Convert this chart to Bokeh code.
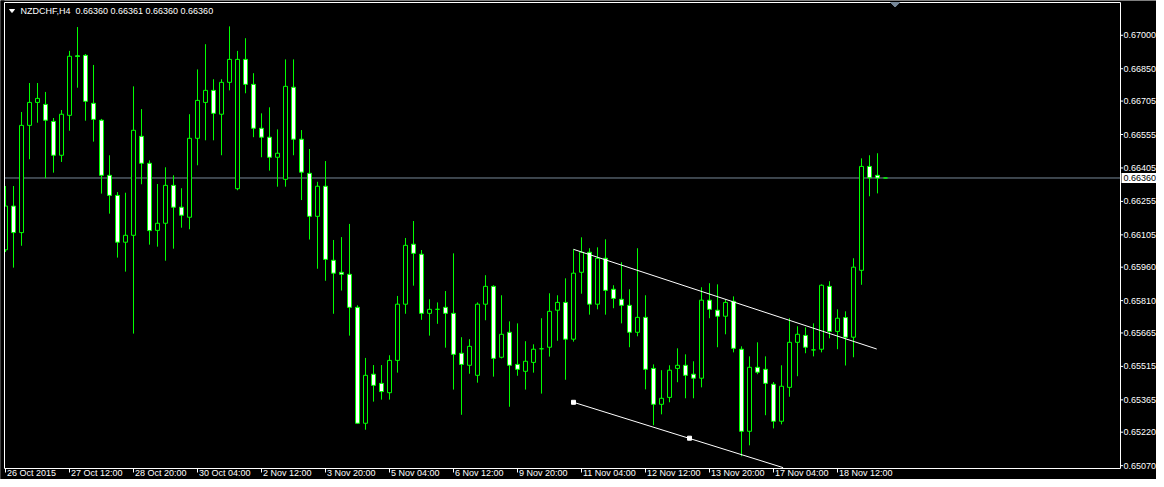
from bokeh.plotting import figure
from bokeh.models import ColumnDataSource, Range1d
from bokeh.core.properties import value
from bokeh.embed import file_html
from bokeh.resources import INLINE

# ---------------- data ----------------
symbol = "NZDCHF,H4"
last_quote = ["0.66360", "0.66361", "0.66360", "0.66360"]
current_price = 0.66360

opens = [0.66038, 0.66234, 0.66115, 0.66596, 0.66699, 0.66690, 0.66614, 0.66462, 0.66641, 0.66908,
         0.66910, 0.66695, 0.66619, 0.66372, 0.66282, 0.66072, 0.66103, 0.66547, 0.66426, 0.66125,
         0.66157, 0.66327, 0.66229, 0.66184, 0.66538, 0.66699, 0.66753, 0.66646, 0.66789, 0.66312,
         0.66892, 0.66780, 0.66583, 0.66543, 0.66453, 0.66354, 0.66767, 0.66534, 0.66381, 0.66188,
         0.66323, 0.65991, 0.65937, 0.65928, 0.65780, 0.65260, 0.65480, 0.65439, 0.65397, 0.65542,
         0.65794, 0.66063, 0.66018, 0.65753, 0.65771, 0.65780, 0.65753, 0.65574, 0.65520, 0.65475,
         0.65794, 0.65874, 0.65556, 0.65668, 0.65524, 0.65493, 0.65533, 0.65594, 0.65601, 0.65767,
         0.65802, 0.65637, 0.65937, 0.66027, 0.65794, 0.66000, 0.65861, 0.65816, 0.65789, 0.65668,
         0.65735, 0.65506, 0.65345, 0.65376, 0.65506, 0.65520, 0.65480, 0.65462, 0.65812, 0.65767,
         0.65740, 0.65807, 0.65592, 0.65224, 0.65511, 0.65502, 0.65435, 0.65269, 0.65421, 0.65623,
         0.65654, 0.65589, 0.65592, 0.65874, 0.65672, 0.65734, 0.65646, 0.65946, 0.66412, 0.66372,
         0.66360]
highs = [0.66324, 0.66324, 0.66656, 0.66786, 0.66786, 0.66746, 0.66629, 0.66665, 0.66930, 0.67037,
         0.66916, 0.66867, 0.66625, 0.66462, 0.66297, 0.66294, 0.66771, 0.66669, 0.66439, 0.66333,
         0.66408, 0.66372, 0.66314, 0.66646, 0.66847, 0.66960, 0.66803, 0.66803, 0.67040, 0.66930,
         0.66987, 0.66830, 0.66650, 0.66677, 0.66578, 0.66892, 0.66892, 0.66575, 0.66490, 0.66343,
         0.66436, 0.66082, 0.66095, 0.66154, 0.65789, 0.65553, 0.65521, 0.65521, 0.65565, 0.65831,
         0.66091, 0.66167, 0.66037, 0.65816, 0.65802, 0.65853, 0.66022, 0.65646, 0.65637, 0.65802,
         0.65924, 0.65879, 0.65834, 0.65717, 0.65708, 0.65628, 0.65614, 0.65731, 0.65843, 0.65834,
         0.65910, 0.66040, 0.66094, 0.66045, 0.66049, 0.66085, 0.65879, 0.65982, 0.65861, 0.66045,
         0.65834, 0.65524, 0.65498, 0.65520, 0.65596, 0.65569, 0.65538, 0.65870, 0.65888, 0.65883,
         0.65816, 0.65829, 0.65605, 0.65560, 0.65623, 0.65560, 0.65445, 0.65520, 0.65731, 0.65695,
         0.65690, 0.65708, 0.65883, 0.65897, 0.65771, 0.65762, 0.66000, 0.66448, 0.66462, 0.66471,
         0.66361]
lows = [0.66028, 0.65958, 0.66056, 0.66444, 0.66608, 0.66359, 0.66384, 0.66432, 0.66572, 0.66765,
        0.66617, 0.66523, 0.66290, 0.66200, 0.66003, 0.65940, 0.65662, 0.66332, 0.66061, 0.66052,
        0.65989, 0.66043, 0.66137, 0.66130, 0.66417, 0.66529, 0.66529, 0.66462, 0.66753, 0.66305,
        0.66740, 0.66543, 0.66453, 0.66393, 0.66321, 0.66321, 0.66462, 0.66261, 0.66084, 0.65953,
        0.65899, 0.65751, 0.65855, 0.65653, 0.65258, 0.65231, 0.65357, 0.65366, 0.65366, 0.65487,
        0.65751, 0.65877, 0.65724, 0.65653, 0.65706, 0.65599, 0.65411, 0.65298, 0.65482, 0.65442,
        0.65722, 0.65469, 0.65551, 0.65334, 0.65473, 0.65411, 0.65487, 0.65393, 0.65559, 0.65630,
        0.65455, 0.65626, 0.65841, 0.65747, 0.65771, 0.65747, 0.65776, 0.65708, 0.65601, 0.65650,
        0.65412, 0.65251, 0.65300, 0.65354, 0.65444, 0.65372, 0.65372, 0.65421, 0.65731, 0.65601,
        0.65659, 0.65578, 0.65112, 0.65161, 0.65480, 0.65296, 0.65237, 0.65255, 0.65379, 0.65471,
        0.65574, 0.65560, 0.65578, 0.65641, 0.65592, 0.65519, 0.65556, 0.65881, 0.66278, 0.66291,
        0.66360]
closes = [0.66234, 0.66115, 0.66596, 0.66699, 0.66717, 0.66619, 0.66462, 0.66646, 0.66906, 0.66905,
          0.66704, 0.66623, 0.66372, 0.66282, 0.66072, 0.66103, 0.66574, 0.66426, 0.66124, 0.66157,
          0.66327, 0.66229, 0.66193, 0.66538, 0.66708, 0.66753, 0.66650, 0.66789, 0.66892, 0.66892,
          0.66780, 0.66583, 0.66543, 0.66453, 0.66471, 0.66771, 0.66534, 0.66386, 0.66188, 0.66323,
          0.65995, 0.65933, 0.65928, 0.65780, 0.65260, 0.65475, 0.65430, 0.65402, 0.65542, 0.65794,
          0.66058, 0.66022, 0.65753, 0.65771, 0.65771, 0.65753, 0.65569, 0.65524, 0.65605, 0.65794,
          0.65874, 0.65551, 0.65659, 0.65520, 0.65502, 0.65538, 0.65592, 0.65594, 0.65762, 0.65802,
          0.65637, 0.65933, 0.66027, 0.65794, 0.66000, 0.65856, 0.65820, 0.65789, 0.65668, 0.65735,
          0.65502, 0.65345, 0.65372, 0.65498, 0.65520, 0.65475, 0.65462, 0.65812, 0.65771, 0.65740,
          0.65802, 0.65596, 0.65224, 0.65511, 0.65489, 0.65439, 0.65269, 0.65426, 0.65623, 0.65659,
          0.65601, 0.65589, 0.65879, 0.65672, 0.65731, 0.65646, 0.65960, 0.66412, 0.66361, 0.66360,
          0.66360]

time_labels = ["26 Oct 2015", "27 Oct 12:00", "28 Oct 20:00", "30 Oct 04:00", "2 Nov 12:00",
               "3 Nov 20:00", "5 Nov 04:00", "6 Nov 12:00", "9 Nov 20:00", "11 Nov 04:00",
               "12 Nov 12:00", "13 Nov 20:00", "17 Nov 04:00", "18 Nov 12:00"]
time_label_bars = [0, 8, 16, 24, 32, 40, 48, 56, 64, 72, 80, 88, 96, 104]

price_ticks = [0.67000, 0.66850, 0.66705, 0.66555, 0.66405, 0.66255, 0.66105,
               0.65960, 0.65810, 0.65665, 0.65515, 0.65365, 0.65220, 0.65070]

# trend channel (bar index, price)
upper_line_x = [71.0, 108.9]
upper_line_y = [0.66040, 0.65593]
lower_line_x = [71.0, 97.2]
lower_line_y = [0.65354, 0.65061]
lower_anchor_x = [71.0, 85.5]
lower_anchor_y = [0.65354, 0.65193]
shift_marker_bar = 111.2

# ---------------- layout: one frame covering the whole canvas ----------------
# BokehJS offsets its drawing by half a pixel, so pixel-centre positions are
# mapped to (position - 0.5) on the scales below.
W, H = 1156, 479
BAR_PX = 8                       # pixels per bar
X0 = -5.0 / BAR_PX               # bar 0 centre lands on pixel column 5
X1 = X0 + W / BAR_PX
PRICE_PER_PX = 0.00004485
Y_TOP = 0.671583 - 0.5 * PRICE_PER_PX
Y_BOT = Y_TOP - H * PRICE_PER_PX


def fx(px):
    return X0 + (px - 0.5) / BAR_PX


def fy(py):
    return Y_TOP - (py - 0.5) * PRICE_PER_PX


BOX_L, BOX_R, BOX_T, BOX_B = 4.5, 1120.5, 2.5, 468.5   # chart box (pixel centres)
FONT = value("Liberation Sans")
FS = value("9px")
LIME = "#00FF00"
SLATE = "#778899"

p = figure(width=W, height=H, x_range=Range1d(X0, X1), y_range=Range1d(Y_BOT, Y_TOP),
           output_backend="svg", toolbar_location=None,
           x_axis_location=None, y_axis_location=None,
           min_border_left=0, min_border_right=0, min_border_top=0, min_border_bottom=0,
           background_fill_color="black", border_fill_color="black", outline_line_color=None)
p.xgrid.visible = False
p.ygrid.visible = False

# current price (bid) line
p.segment(x0=[fx(BOX_L)], x1=[fx(BOX_R)], y0=[current_price], y1=[current_price],
          line_color=SLATE, line_width=1)

# candles
idx = list(range(len(opens)))
src = ColumnDataSource(dict(
    x=idx, low=lows, high=highs,
    top=[max(o, c) for o, c in zip(opens, closes)],
    bottom=[min(o, c) for o, c in zip(opens, closes)],
    fill=["black" if c >= o else "white" for o, c in zip(opens, closes)],
))
p.segment(x0="x", y0="low", x1="x", y1="high", source=src, line_color=LIME, line_width=1)
p.vbar(x="x", width=0.5, top="top", bottom="bottom", source=src,
       fill_color="fill", line_color=LIME, line_width=1)

# trend channel
p.line(upper_line_x, upper_line_y, line_color="white", line_width=1)
p.line(lower_line_x, lower_line_y, line_color="white", line_width=1)
p.scatter(lower_anchor_x, lower_anchor_y, marker="square", size=4,
          fill_color="white", line_color="white", line_width=1)

# mask outside the chart box on the left, then the box itself
p.quad(left=[fx(-1)], right=[fx(BOX_L)], top=[fy(-1)], bottom=[fy(H + 1)],
       fill_color="black", line_color=None)
p.line([fx(BOX_L), fx(BOX_R), fx(BOX_R), fx(BOX_L), fx(BOX_L)],
       [fy(BOX_T), fy(BOX_T), fy(BOX_B), fy(BOX_B), fy(BOX_T)],
       line_color="white", line_width=1)

# chart-shift marker
p.patch([shift_marker_bar - 4.5 / BAR_PX, shift_marker_bar + 4.5 / BAR_PX, shift_marker_bar],
        [fy(2.5), fy(2.5), fy(7)], fill_color=SLATE, line_color=SLATE)

# price scale (right)
p.segment(x0=[fx(1121)] * len(price_ticks), x1=[fx(1123)] * len(price_ticks),
          y0=price_ticks, y1=price_ticks, line_color="white", line_width=1)
p.text(x=[fx(1123.5)] * len(price_ticks), y=price_ticks, text=[f"{v:.5f}" for v in price_ticks],
       text_align="left", text_baseline="middle", text_color="white",
       text_font=FONT, text_font_size=FS)

# current price box
p.quad(left=[fx(1121.5)], right=[fx(W + 1)], top=[current_price + 5 * PRICE_PER_PX],
       bottom=[current_price - 5 * PRICE_PER_PX], fill_color="white", line_color=None)
p.text(x=[fx(1123.5)], y=[current_price], text=[last_quote[3]],
       text_align="left", text_baseline="middle", text_color="black",
       text_font=FONT, text_font_size=FS)

# time scale (bottom)
p.segment(x0=time_label_bars, x1=time_label_bars,
          y0=[fy(BOX_B)] * len(time_label_bars), y1=[fy(472.5)] * len(time_label_bars),
          line_color="white", line_width=1)
p.text(x=[b + 1.5 / BAR_PX for b in time_label_bars], y=[fy(473)] * len(time_label_bars),
       text=time_labels, text_align="left", text_baseline="middle", text_color="white",
       text_font=FONT, text_font_size=FS)

# header
p.patch([fx(9.5), fx(14.5), fx(12)], [fy(9.5), fy(9.5), fy(12.5)],
        fill_color="white", line_color="white")
p.text(x=[fx(20.5)], y=[fy(10.5)],
       text=[symbol + "\u00a0\u00a0" + " ".join(last_quote)],
       text_align="left", text_baseline="middle", text_color="white",
       text_font=FONT, text_font_size=FS)

open("out.html", "w").write(file_html(p, INLINE))
